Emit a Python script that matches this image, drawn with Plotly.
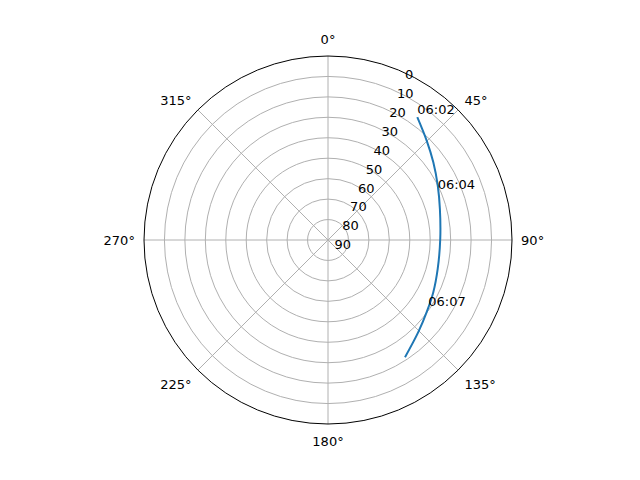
import plotly.graph_objects as go

# satellite pass: azimuth (deg, clockwise from north) and elevation (deg)
azimuth = [36.0, 44.8, 53.6, 63.7, 74.5, 89.5, 104.8, 116.4, 126.2, 135.6, 146.7]
elevation = [15.7, 21.5, 26.0, 30.1, 33.2, 35.1, 34.5, 32.5, 30.2, 26.9, 21.4]

# time stamps written next to the track
label_az = [36.0, 66.5, 124.5]
label_el = [15.7, 31.5, 30.5]
label_text = ['06:02', '06:04', '06:07']

angle_ticks = [0, 45, 90, 135, 180, 225, 270, 315]
radial_ticks = [0, 10, 20, 30, 40, 50, 60, 70, 80, 90]

fig = go.Figure()

fig.add_trace(go.Scatterpolar(
    r=elevation, theta=azimuth, mode='lines',
    line=dict(color='#1f77b4', width=2, shape='spline'),
    showlegend=False, hoverinfo='skip'))

fig.add_trace(go.Scatterpolar(
    r=label_el, theta=label_az, mode='text', text=label_text,
    textposition='top right', textfont=dict(size=13, color='black'),
    showlegend=False, hoverinfo='skip'))

fig.update_layout(
    width=640, height=480,
    paper_bgcolor='white',
    font=dict(family='DejaVu Sans', size=13, color='black'),
    margin=dict(l=136, r=136, t=48, b=64),
    polar=dict(
        bgcolor='white',
        angularaxis=dict(
            rotation=90, direction='clockwise',
            tickvals=angle_ticks,
            ticktext=[f'{a}°' for a in angle_ticks],
            showline=True, linecolor='black', linewidth=1,
            gridcolor='#b0b0b0', gridwidth=1,
            ticks='outside', ticklen=6, tickcolor='rgba(0,0,0,0)',
        ),
        radialaxis=dict(
            range=[90, 0],
            tickvals=radial_ticks,
            angle=67.5, tickangle=67.5,
            showline=False,
            gridcolor='#b0b0b0', gridwidth=1,
            ticks='', side='clockwise',
        ),
    ),
)

fig.write_html('out.html')
